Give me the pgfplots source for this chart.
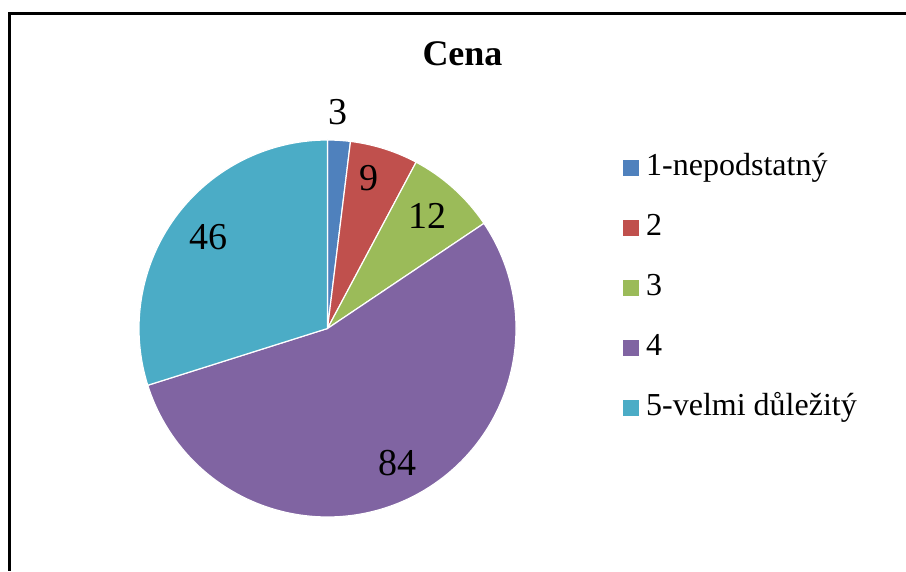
\documentclass[border=0pt]{standalone}
\usepackage{fontspec}
\setmainfont{Liberation Serif}
\usepackage{pgfplots}
\usepackage{pgfplotstable}
\pgfplotsset{compat=1.18}

\definecolor{c1}{HTML}{4F81BD}
\definecolor{c2}{HTML}{C0504D}
\definecolor{c3}{HTML}{9BBB59}
\definecolor{c4}{HTML}{8064A2}
\definecolor{c5}{HTML}{4BACC6}

% value, label position (px, from top left), colour
\pgfplotstableread[col sep=comma]{
label,value,lx,ly,col
1-nepodstatný,3,338,112,c1
2,9,369,178.5,c2
3,12,427,216,c3
4,84,397,463,c4
5-velmi důležitý,46,208,237,c5
}\cenadata

\begin{document}
\begin{tikzpicture}
\begin{axis}[
    name=ax,
    x=1pt, y=1pt,
    xmin=0, xmax=906, ymin=0, ymax=571,
    hide axis,
    clip=false,
    legend image code/.code={\fill[#1, draw=none] (0pt,-8pt) rectangle (16pt,8pt);},
    legend style={
        at={(0.68764,0.73205)}, anchor=north west,
        draw=none, fill=none, inner sep=0pt,
        font=\fontsize{32}{38}\selectfont,
        row sep=30pt, column sep=7pt,
        nodes={inner sep=0pt, text height=22pt, text depth=8pt},
    },
    legend cell align=left,
]
\pgfplotsextra{%
  \def\tot{0}%
  \pgfplotsforeachungrouped \i in {0,...,4}{%
    \pgfplotstablegetelem{\i}{value}\of\cenadata
    \pgfmathsetmacro\tot{\tot+\pgfplotsretval}%
  }%
  \def\cum{0}%
  \pgfplotsforeachungrouped \i in {0,...,4}{%
    \pgfplotstablegetelem{\i}{value}\of\cenadata \let\val\pgfplotsretval
    \pgfplotstablegetelem{\i}{col}\of\cenadata \let\slicecol\pgfplotsretval
    \pgfmathsetmacro\sa{90-360*(\cum/\tot)}%
    \pgfmathsetmacro\ea{90-360*((\cum+\val)/\tot)}%
    \path[fill=\slicecol, draw=white, line width=1.2pt]
      (axis cs:327.5,242.5) -- ++(\sa:188.5pt)
      arc[start angle=\sa, end angle=\ea, radius=188.5pt] -- cycle;
    \pgfmathsetmacro\cum{\cum+\val}%
  }%
  \pgfplotsforeachungrouped \i in {0,...,4}{%
    \pgfplotstablegetelem{\i}{value}\of\cenadata \let\val\pgfplotsretval
    \pgfplotstablegetelem{\i}{lx}\of\cenadata \let\lx\pgfplotsretval
    \pgfplotstablegetelem{\i}{ly}\of\cenadata
    \pgfmathsetmacro\ly{571-\pgfplotsretval}%
    \node[font=\fontsize{38}{44}\selectfont, inner sep=0pt] at (axis cs:\lx,\ly) {\val};
  }%
  \node[font=\bfseries\fontsize{36}{40}\selectfont, anchor=base] at (axis cs:462.5,505) {Cena};
  \draw[line width=2.5pt] (axis cs:9.5,0) -- (axis cs:9.5,557.7) -- (axis cs:906,557.7);
}
\addlegendimage{fill=c1}
\addlegendentry{1-nepodstatný}
\addlegendimage{fill=c2}
\addlegendentry{2}
\addlegendimage{fill=c3}
\addlegendentry{3}
\addlegendimage{fill=c4}
\addlegendentry{4}
\addlegendimage{fill=c5}
\addlegendentry{5-velmi důležitý}
\end{axis}
\pgfresetboundingbox
\path (ax.south west) rectangle (ax.north east);
\end{tikzpicture}
\end{document}
